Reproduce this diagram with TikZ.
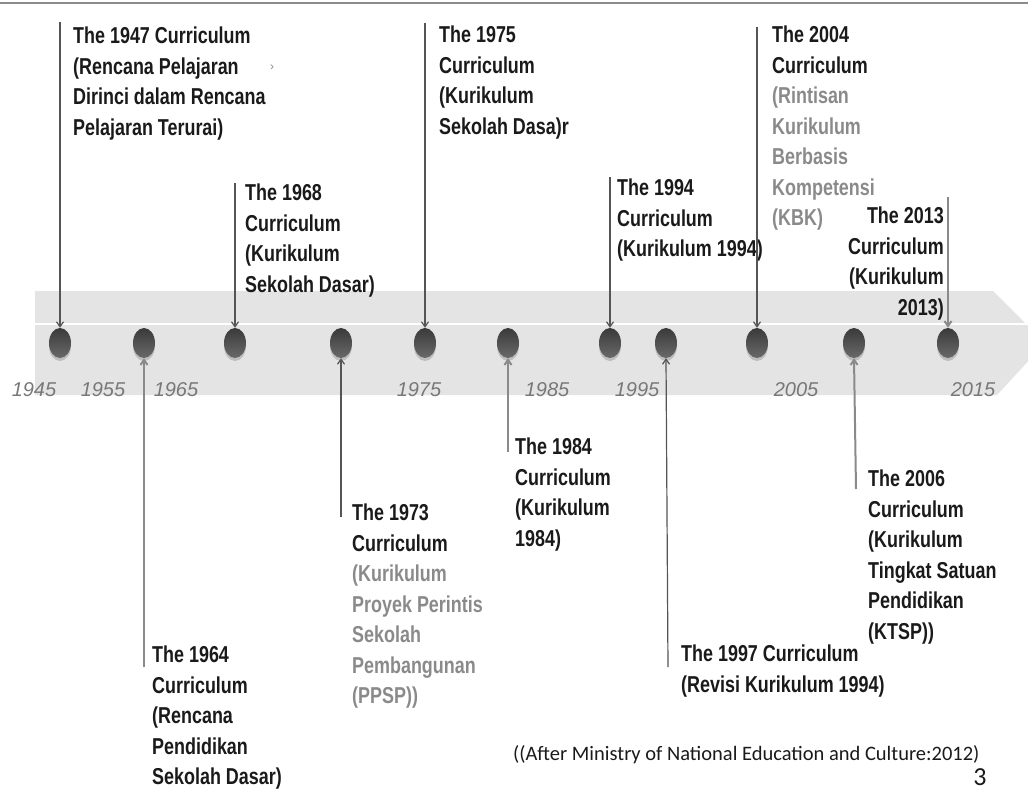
\documentclass[tikz,border=0pt]{standalone}
\usepackage{fontspec}
\setmainfont{Liberation Sans}
\newfontfamily\condfont{Liberation Sans}[FakeStretch=0.78]
\newfontfamily\notefont{Carlito}
\usetikzlibrary{arrows.meta,shapes.geometric,shadows}

\definecolor{bandgray}{HTML}{E4E4E4}
\definecolor{rulegray}{HTML}{8C8C8C}
\definecolor{dotgray}{HTML}{444444}
\definecolor{linkgray}{HTML}{555555}
\definecolor{softgray}{HTML}{8A8A8A}
\definecolor{yeargray}{HTML}{787878}
\definecolor{inkblack}{HTML}{1A1A1A}

\tikzset{
  lbl/.style={anchor=north west, inner sep=0pt, align=left, text=inkblack,
    font=\condfont\bfseries\fontsize{23}{30.5}\selectfont},
  lblr/.style={lbl, anchor=north east, align=right},
  yr/.style={inner sep=0pt, text=yeargray, font=\itshape\fontsize{20}{24}\selectfont},
  dot/.style={ellipse, minimum width=22pt, minimum height=30pt, inner sep=0pt,
    top color=dotgray!85!black, bottom color=dotgray!80!white,
    drop shadow={shadow xshift=0pt, shadow yshift=-3pt, fill=black!35, opacity=0.6}},
  link/.style={draw=linkgray, line width=1.2pt, -{Straight Barb[length=5pt,width=7pt]}},
  softlink/.style={link, draw=softgray, line width=2pt},
  gr/.style={text=softgray}
}

\begin{document}
\begin{tikzpicture}[x=1pt,y=-1pt]
\useasboundingbox (0,0) rectangle (1028,792);

% top rule
\draw[rulegray, line width=2.5pt] (0,3) -- (1028,3);

% timeline band (arrow shape) with white separator
\fill[bandgray] (35,291) -- (993,291) -- (1045,343) -- (997,395) -- (35,395) -- cycle;
\draw[white, line width=2pt] (35,324) -- (1030,324);

% milestone dots
\node[dot] (d1947) at (60,343) {};
\node[dot] (d1964) at (144,343) {};
\node[dot] (d1968) at (235,343) {};
\node[dot] (d1973) at (341,343) {};
\node[dot] (d1975) at (425,343) {};
\node[dot] (d1984) at (508,343) {};
\node[dot] (d1994) at (610,343) {};
\node[dot] (d1997) at (666,343) {};
\node[dot] (d2004) at (757,343) {};
\node[dot] (d2006) at (854,343) {};
\node[dot] (d2013) at (948,343) {};

% decade labels
\node[yr] (y1945) at (34,390) {1945};
\node[yr] (y1955) at (103,390) {1955};
\node[yr] (y1965) at (176,390) {1965};
\node[yr] (y1975) at (419,390) {1975};
\node[yr] (y1985) at (547,390) {1985};
\node[yr] (y1995) at (637,390) {1995};
\node[yr] (y2005) at (796,390) {2005};
\node[yr] (y2015) at (973,390) {2015};

% curricula above the band
\node[lbl] (t1947) at (73,27) {The 1947 Curriculum\\(Rencana Pelajaran\\Dirinci dalam Rencana\\Pelajaran Terurai)};
\node[text=softgray, inner sep=0pt, font=\fontsize{12}{12}\selectfont] (m1947) at (272,68) {›};
\node[lbl] (t1968) at (245,184) {The 1968\\Curriculum\\(Kurikulum\\Sekolah Dasar)};
\node[lbl] (t1975) at (439,26) {The 1975\\Curriculum\\(Kurikulum\\Sekolah Dasa)r};
\node[lbl] (t1994) at (617,179) {The 1994\\Curriculum\\(Kurikulum 1994)};
\node[lbl] (t2004) at (772,26) {The 2004\\Curriculum\\{\color{softgray}(Rintisan}\\{\color{softgray}Kurikulum}\\{\color{softgray}Berbasis}\\{\color{softgray}Kompetensi}\\{\color{softgray}(KBK)}};
\node[lblr] (t2013) at (944,207) {The 2013\\Curriculum\\(Kurikulum\\2013)};

% curricula below the band
\node[lbl] (t1964) at (152,646) {The 1964\\Curriculum\\(Rencana\\Pendidikan\\Sekolah Dasar)};
\node[lbl] (t1973) at (352,504) {The 1973\\Curriculum\\{\color{softgray}(Kurikulum}\\{\color{softgray}Proyek Perintis}\\{\color{softgray}Sekolah}\\{\color{softgray}Pembangunan}\\{\color{softgray}(PPSP))}};
\node[lbl] (t1984) at (515,438) {The 1984\\Curriculum\\(Kurikulum\\1984)};
\node[lbl] (t1997) at (681,645) {The 1997 Curriculum\\(Revisi Kurikulum 1994)};
\node[lbl] (t2006) at (868,470) {The 2006\\Curriculum\\(Kurikulum\\Tingkat Satuan\\Pendidikan\\(KTSP))};

% connector ends
\coordinate (c1947) at (60,22);
\coordinate (c1968) at (235,183);
\coordinate (c1975) at (425,23);
\coordinate (c1994) at (610,177);
\coordinate (c2004) at (757,27);
\coordinate (c2013) at (948,197);
\coordinate (c1964) at (144,667);
\coordinate (c1973) at (341,517);
\coordinate (c1984) at (508,452);
\coordinate (c1997) at (668,667);
\coordinate (c2006) at (856,489);

% connectors
\draw[link] (c1947) -- (d1947.north);
\draw[link] (c1968) -- (d1968.north);
\draw[link] (c1975) -- (d1975.north);
\draw[link] (c1994) -- (d1994.north);
\draw[link] (c2004) -- (d2004.north);
\draw[softlink] (c2013) -- (d2013.north);
\draw[softlink] (c1964) -- (d1964.south);
\draw[link] (c1973) -- (d1973.south);
\draw[softlink] (c1984) -- (d1984.south);
\draw[link] (c1997) -- (d1997.south);
\draw[softlink] (c2006) -- (d2006.south);

% source note and page number
\node[anchor=west, inner sep=0pt, text=inkblack, font=\notefont\fontsize{20.5}{24}\selectfont] (src) at (513,755) {((After Ministry of National Education and Culture:2012)};
\node[inner sep=0pt, text=inkblack, font=\notefont\fontsize{26}{28}\selectfont] (pg) at (980,777) {3};
\end{tikzpicture}
\end{document}
